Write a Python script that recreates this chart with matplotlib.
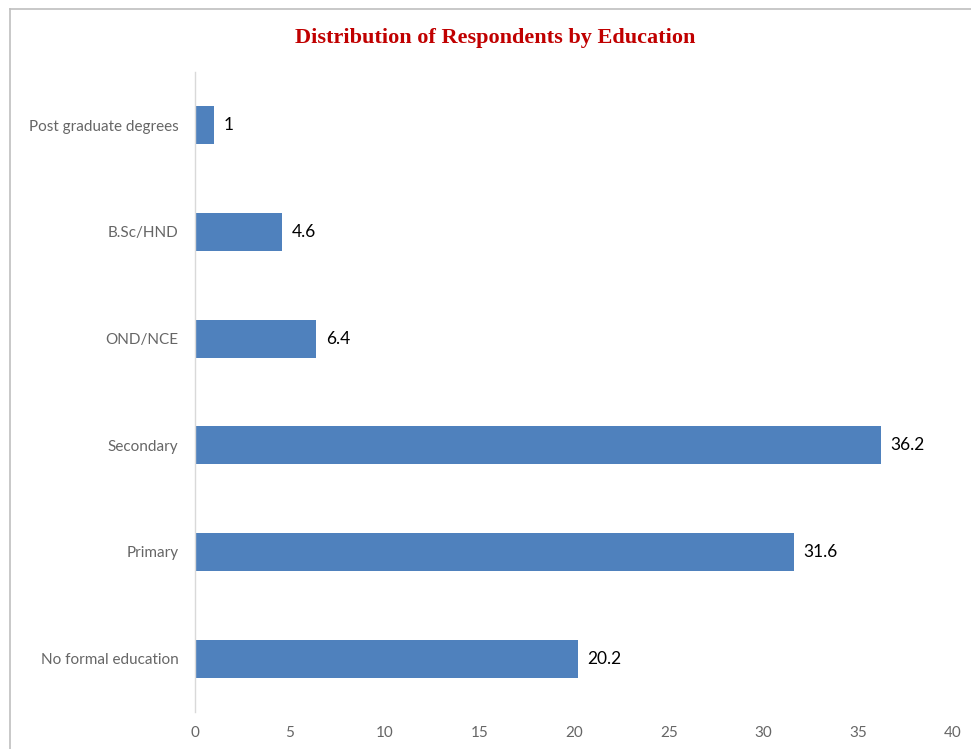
import numpy as np
import matplotlib
matplotlib.use("Agg")
import matplotlib.pyplot as plt
from matplotlib.lines import Line2D

categories = ["No formal education", "Primary", "Secondary", "OND/NCE",
              "B.Sc/HND", "Post graduate degrees"]
values = [20.2, 31.6, 36.2, 6.4, 4.6, 1]
xticks = [0, 5, 10, 15, 20, 25, 30, 35, 40]

fig = plt.figure(figsize=(9.71, 7.49), dpi=100)
ax = fig.add_axes([0.2008, 0.0494, 0.7807, 0.8545])

y = np.arange(len(categories))
ax.barh(y, values, height=0.356, color="#4F81BD")

for yi, v in zip(y, values):
    ax.text(v + 0.5, yi, f"{v:g}", va="center", ha="left",
            fontsize=12.5, family="Lato", color="black")

ax.set_xlim(0, 40)
ax.set_ylim(-0.5, len(categories) - 0.5)
ax.set_xticks(xticks)
ax.set_xticklabels([str(t) for t in xticks])
ax.set_yticks(y)
ax.set_yticklabels(categories)
ax.tick_params(axis="both", length=0, labelsize=11, labelcolor="#666666")
ax.tick_params(axis="x", pad=10)
ax.tick_params(axis="y", pad=12)
for lab in ax.get_xticklabels() + ax.get_yticklabels():
    lab.set_family("Lato")

for s in ["top", "right", "bottom"]:
    ax.spines[s].set_visible(False)
ax.spines["left"].set_color("#D9D9D9")
ax.spines["left"].set_linewidth(1)

fig.text(0.51, 0.949, "Distribution of Respondents by Education",
         ha="center", va="center", fontsize=16, fontweight="bold",
         family="Liberation Serif", color="#C00000")

# outer chart frame (only top and left visible in the crop)
fig.add_artist(Line2D([10 / 971, 1], [1 - 9 / 749, 1 - 9 / 749],
                      transform=fig.transFigure, color="#BFBFBF", lw=1.2))
fig.add_artist(Line2D([10 / 971, 10 / 971], [0, 1 - 9 / 749],
                      transform=fig.transFigure, color="#BFBFBF", lw=1.2))

fig.savefig("out.png", dpi=100)
